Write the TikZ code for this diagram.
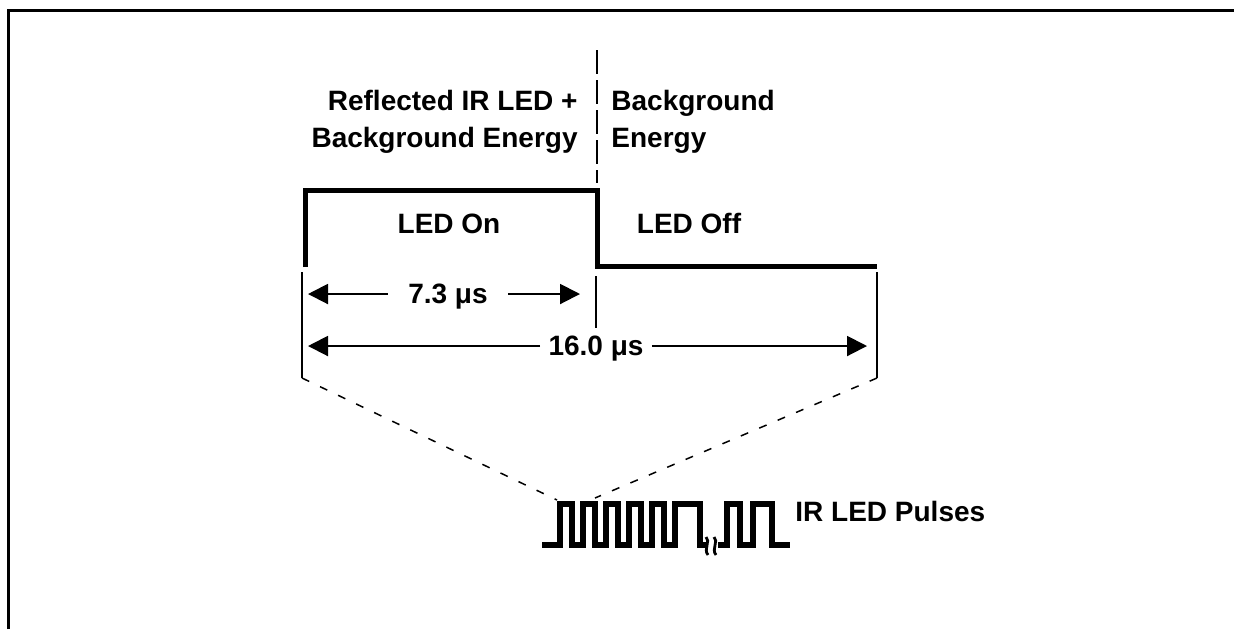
\documentclass[tikz,border=0pt]{standalone}
\usepackage{fontspec}
\setmainfont{Liberation Sans}
\usetikzlibrary{arrows.meta, positioning}
\tikzset{
  frameLine/.style={line width=1.5pt},
  waveLine/.style={line width=2.5pt, line join=miter},
  pulseLine/.style={line width=2.6pt, line join=miter},
  extLine/.style={line width=0.75pt},
  splitLine/.style={line width=0.75pt, dash pattern=on 12pt off 3pt},
  zoomLine/.style={line width=0.75pt, dash pattern=on 4pt off 6pt},
  dimArrow/.style={-{Triangle[length=10pt, width=10pt]}, line width=1pt},
  lblText/.style={font=\fontsize{14}{17}\selectfont\bfseries, inner sep=0pt},
  dimText/.style={lblText, text depth=0pt},
}
\begin{document}
\begin{tikzpicture}[x=0.5pt, y=-0.5pt]
  \useasboundingbox (0,0) rectangle (1234,629);
  \draw[frameLine] (8,629) -- (8,10) -- (1234,10);

  % labels above the waveform
  \node[lblText, anchor=base east] (reflA) at (578,110) {Reflected IR LED +};
  \node[lblText, anchor=base east] (reflB) at (578,147) {Background Energy};
  \node[lblText, anchor=base west] (bgA) at (611,110) {Background};
  \node[lblText, anchor=base west] (bgB) at (611,147) {Energy};
  \node[lblText, anchor=base] (ledOn) at (449,233) {LED On};
  \node[lblText, anchor=base] (ledOff) at (689,233) {LED Off};

  % divider between the two halves
  \coordinate (splitTop) at (597,50);
  \coordinate (splitBot) at (597,183);
  \draw[splitLine] (splitTop) -- (splitBot);

  % LED drive waveform
  \coordinate (wStart) at (305,267);
  \coordinate (wRise) at (305,190);
  \coordinate (wFall) at (597,190);
  \coordinate (wLow) at (597,266);
  \coordinate (wEnd) at (877,266);
  \draw[waveLine] (wStart) -- (wRise) -- (wFall) -- (wLow) -- (wEnd);

  % extension lines
  \coordinate (extLTop) at (302,272);
  \coordinate (extLBot) at (302,378);
  \coordinate (extMTop) at (596,276);
  \coordinate (extMBot) at (596,328);
  \coordinate (extRTop) at (877,272);
  \coordinate (extRBot) at (877,378);
  \draw[extLine] (extLTop) -- (extLBot);
  \draw[extLine] (extMTop) -- (extMBot);
  \draw[extLine] (extRTop) -- (extRBot);

  % dimensions
  \node[dimText, inner xsep=10pt] (dimOn) at (448,294) {7.3 μs};
  \coordinate (tipOnL) at (308,294);
  \coordinate (tipOnR) at (580,294);
  \draw[dimArrow] (dimOn.west) -- (tipOnL);
  \draw[dimArrow] (dimOn.east) -- (tipOnR);

  \node[dimText, inner xsep=4pt] (dimAll) at (596,346) {16.0 μs};
  \coordinate (tipAllL) at (308,346);
  \coordinate (tipAllR) at (867,346);
  \draw[dimArrow] (dimAll.west) -- (tipAllL);
  \draw[dimArrow] (dimAll.east) -- (tipAllR);

  % zoom lines down to the pulse train
  \coordinate (zoomL) at (557,500);
  \coordinate (zoomR) at (595,498);
  \draw[zoomLine] (extLBot) -- (zoomL);
  \draw[zoomLine] (extRBot) -- (zoomR);

  % IR LED pulse train
  \draw[pulseLine] (542,545) -| (560,504) -| (572,545) -| (583,504) -| (595,545)
    -| (606,504) -| (618,545) -| (629,504) -| (641,545) -| (652,504) -| (664,545)
    -| (675,504) -| (700,545) -- (707,545);
  \draw[pulseLine] (718,545) -| (727,504) -| (740,545) -| (753,504) -| (772,545)
    -- (790,545);
  \draw[line width=1.4pt] (706,537) .. controls (711,541) and (703,549) .. (708,555);
  \draw[line width=1.4pt] (714,537) .. controls (719,541) and (711,549) .. (716,555);
  \node[lblText, anchor=base west] (pulseTxt) at (795,521) {IR LED Pulses};
\end{tikzpicture}
\end{document}
